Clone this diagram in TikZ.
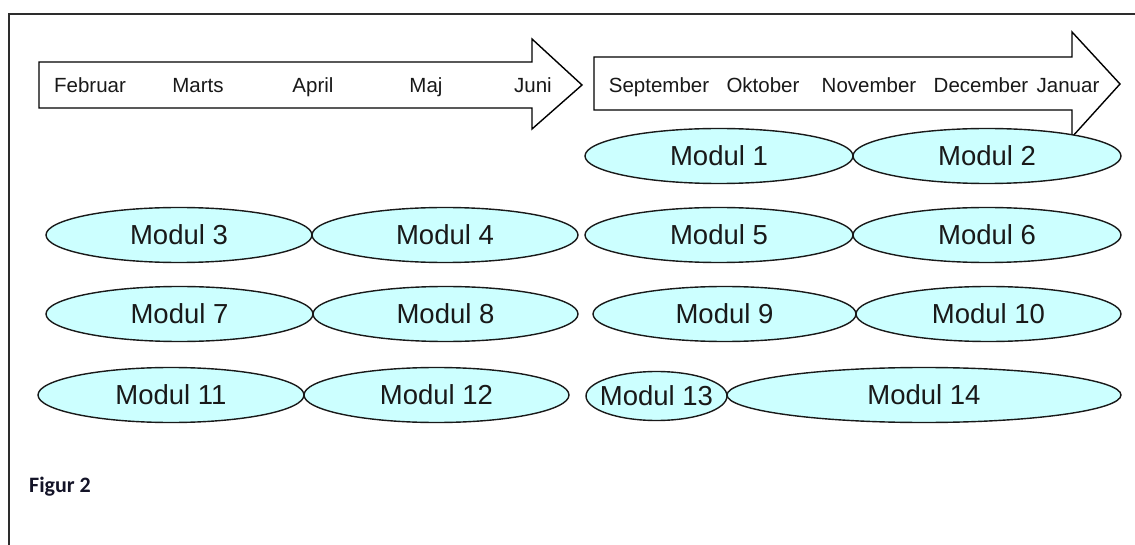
\documentclass[tikz,border=0pt]{standalone}
\usepackage{fontspec}
\setmainfont{Liberation Sans}
\newfontfamily\figfont{Carlito}
\usetikzlibrary{shapes.geometric}
\definecolor{modfill}{RGB}{204,255,255}
\definecolor{ink}{RGB}{25,25,25}
\definecolor{framec}{RGB}{45,45,45}
\definecolor{figc}{RGB}{20,20,40}
\tikzset{
  mod/.style={ellipse, draw=ink, line width=1.4pt, fill=modfill, inner sep=0pt, minimum height=55pt},
  modtext/.style={inner sep=0pt, text=ink, font=\fontsize{27.5}{31}\selectfont},
  month/.style={inner sep=0pt, anchor=base, text=ink, font=\fontsize{20.5}{24}\selectfont},
  timearrow/.style={draw=black, line width=1.4pt, fill=white, line join=miter},
}
\begin{document}
\begin{tikzpicture}[x=1pt,y=-1pt]
\useasboundingbox (0,0) rectangle (1135,545);
% frame
\draw[framec, line width=2pt] (9,545) -- (9,14) -- (1135,14);
% arrows
\draw[timearrow] (39,62) -- (532,62) -- (532,39) -- (582,85) -- (532,129) -- (532,108) -- (39,108) -- cycle;
\draw[timearrow] (594,57) -- (1072,57) -- (1072,32) -- (1120,84) -- (1072,137) -- (1072,110) -- (594,110) -- cycle;
% months
\node[month] (feb) at (90,93) {Februar};
\node[month] (mar) at (198,93) {Marts};
\node[month] (apr) at (313,93) {April};
\node[month] (maj) at (426,93) {Maj};
\node[month] (jun) at (533,93) {Juni};
\node[month] (sep) at (659,92.5) {September};
\node[month] (okt) at (763,92.5) {Oktober};
\node[month] (nov) at (869,92.5) {November};
\node[month] (dec) at (981,92.5) {December};
\node[month] (jan) at (1068,92.5) {Januar};
% modules
\node[mod, minimum width=268pt] (m1) at (719,156) {};
\node[mod, minimum width=268pt] (m2) at (987,156) {};
\node[mod, minimum width=266pt] (m3) at (179,235) {};
\node[mod, minimum width=266pt] (m4) at (445,235) {};
\node[mod, minimum width=268pt] (m5) at (719,235) {};
\node[mod, minimum width=268pt] (m6) at (987,235) {};
\node[mod, minimum width=267pt] (m7) at (179.5,314) {};
\node[mod, minimum width=265pt] (m8) at (445.5,314) {};
\node[mod, minimum width=263pt] (m9) at (724.5,314) {};
\node[mod, minimum width=265pt] (m10) at (988.5,314) {};
\node[mod, minimum width=266pt] (m11) at (171,395) {};
\node[mod, minimum width=265pt] (m12) at (436.5,395) {};
\node[mod, minimum width=141pt, minimum height=49pt] (m13) at (656.5,396) {};
\node[mod, minimum width=394pt] (m14) at (924,395) {};
\node[modtext] (t1) at (m1) {Modul 1};
\node[modtext] (t2) at (m2) {Modul 2};
\node[modtext] (t3) at (m3) {Modul 3};
\node[modtext] (t4) at (m4) {Modul 4};
\node[modtext] (t5) at (m5) {Modul 5};
\node[modtext] (t6) at (m6) {Modul 6};
\node[modtext] (t7) at (m7) {Modul 7};
\node[modtext] (t8) at (m8) {Modul 8};
\node[modtext] (t9) at (m9) {Modul 9};
\node[modtext] (t10) at (m10) {Modul 10};
\node[modtext] (t11) at (m11) {Modul 11};
\node[modtext] (t12) at (m12) {Modul 12};
\node[modtext] (t13) at (m13) {Modul 13};
\node[modtext] (t14) at (m14) {Modul 14};
% caption
\node[anchor=west, inner sep=0pt, text=figc, font=\figfont\bfseries\fontsize{22}{26}\selectfont] (fig) at (29,487) {Figur 2};
\end{tikzpicture}
\end{document}
